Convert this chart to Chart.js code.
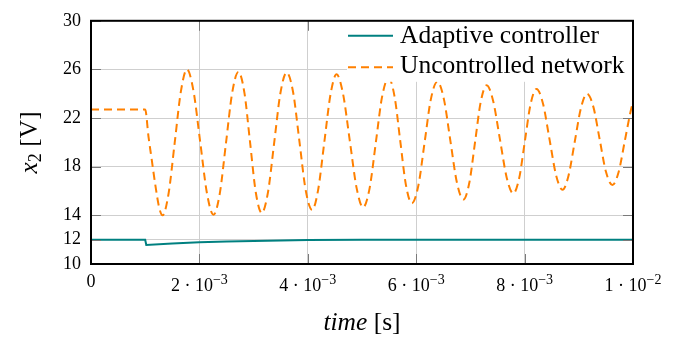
<!DOCTYPE html>
<html>
<head>
<meta charset="utf-8">
<script src="https://cdn.jsdelivr.net/npm/chart.js@4.4.1/dist/chart.umd.min.js"></script>
<style>
  html, body { margin: 0; padding: 0; background: #fff; }
  canvas { display: block; }
</style>
</head>
<body>
<canvas id="chart" width="682" height="339"></canvas>
<script>
// time values are in ms, the axis is in seconds
const uncontrolledTime = [
  0, 1.0, 1.06, 1.12, 1.19, 1.26, 1.32,
  1.43, 1.545, 1.66, 1.77,
  1.89, 2.015, 2.14, 2.26,
  2.375, 2.49, 2.605, 2.72,
  2.83, 2.935, 3.04, 3.15,
  3.265, 3.38, 3.495, 3.61,
  3.73, 3.845, 3.96, 4.08,
  4.19, 4.305, 4.42, 4.53,
  4.65, 4.775, 4.90, 5.02,
  5.14, 5.255, 5.37, 5.49,
  5.60, 5.705, 5.81, 5.92,
  6.04, 6.155, 6.27, 6.39,
  6.51, 6.63, 6.75, 6.87,
  6.98, 7.085, 7.19, 7.30,
  7.42, 7.545, 7.67, 7.79,
  7.90, 8.005, 8.11, 8.22,
  8.34, 8.46, 8.58, 8.70,
  8.81, 8.925, 9.04, 9.15,
  9.27, 9.385, 9.50, 9.62,
  9.735, 9.85, 9.965, 10.0
];
const uncontrolledV = [
  22.7, 22.7, 20.5, 18.6, 16.4, 14.6, 14.0,
  15.76, 20.0, 24.24, 26.0,
  24.25, 20.03, 15.8, 14.05,
  15.77, 19.93, 24.08, 25.8,
  24.1, 20.0, 15.9, 14.2,
  15.89, 19.98, 24.06, 25.75,
  24.1, 20.1, 16.1, 14.45,
  16.08, 20.03, 23.97, 25.6,
  24.0, 20.13, 16.26, 14.66,
  16.22, 19.98, 23.74, 25.3,
  23.79, 20.15, 16.51, 15.0,
  16.46, 20.0, 23.54, 25.0,
  23.58, 20.15, 16.72, 15.3,
  16.68, 20.0, 23.32, 24.7,
  23.4, 20.25, 17.1, 15.8,
  17.06, 20.1, 23.14, 24.4,
  23.18, 20.25, 17.32, 16.1,
  17.26, 20.05, 22.84, 24.0,
  22.9, 20.25, 17.6, 16.5,
  17.57, 20.15, 22.73, 23.3
];
const controlledTime = [0, 1.0, 1.02, 1.5, 2.0, 2.5, 3.0, 3.5, 4.0, 5.0, 10.0];
const controlledV = [12, 12, 11.56, 11.68, 11.78, 11.85, 11.9, 11.94, 11.97, 12.0, 12.0];

const seriesNames = ['Adaptive controller', 'Uncontrolled network'];
const xTicks = [0, 0.002, 0.004, 0.006, 0.008, 0.01];
const xTickBase = ['0', '2 · 10', '4 · 10', '6 · 10', '8 · 10', '1 · 10'];
const xTickExp = ['', '−3', '−3', '−3', '−3', '−2'];
const yTicks = [10, 12, 14, 18, 22, 26, 30];

const SERIF = "'Liberation Serif', 'Times New Roman', serif";
const TEAL = '#008080';
const ORANGE = '#ff8000';

// draws a list of text runs [text, font, dy] side by side, centred on x
function drawRuns(ctx, runs, x, y, align) {
  let total = 0;
  runs.forEach(r => { ctx.font = r[1]; total += ctx.measureText(r[0]).width; });
  let cx = align === 'center' ? x - total / 2 : x;
  ctx.textAlign = 'left';
  runs.forEach(r => {
    ctx.font = r[1];
    ctx.fillText(r[0], cx, y + (r[2] || 0));
    cx += ctx.measureText(r[0]).width;
  });
}

const decorations = {
  id: 'decorations',
  afterDraw(chart) {
    const ctx = chart.ctx;
    const { left, right, top, bottom } = chart.chartArea;
    const xs = chart.scales.x, ys = chart.scales.y;
    ctx.save();

    // inner tick marks on all four sides
    ctx.strokeStyle = '#7a7a7a';
    ctx.lineWidth = 1;
    ctx.beginPath();
    xTicks.forEach(v => {
      const px = Math.round(xs.getPixelForValue(v)) + 0.5;
      ctx.moveTo(px, bottom); ctx.lineTo(px, bottom - 10);
      ctx.moveTo(px, top); ctx.lineTo(px, top + 10);
    });
    yTicks.forEach(v => {
      const py = Math.round(ys.getPixelForValue(v)) + 0.5;
      ctx.moveTo(left, py); ctx.lineTo(left + 10, py);
      ctx.moveTo(right, py); ctx.lineTo(right - 10, py);
    });
    ctx.stroke();

    // legend, top right inside the plot
    ctx.fillStyle = '#fff';
    ctx.fillRect(right - 286, top, 286, 61);
    ctx.lineWidth = 2;
    ctx.strokeStyle = TEAL;
    ctx.beginPath();
    ctx.moveTo(right - 285, top + 15); ctx.lineTo(right - 240, top + 15);
    ctx.stroke();
    ctx.strokeStyle = ORANGE;
    ctx.setLineDash([8, 5]);
    ctx.beginPath();
    ctx.moveTo(right - 285, top + 46.5); ctx.lineTo(right - 240, top + 46.5);
    ctx.stroke();
    ctx.setLineDash([]);
    ctx.fillStyle = '#000';
    ctx.font = '25.5px ' + SERIF;
    ctx.textAlign = 'left';
    ctx.textBaseline = 'alphabetic';
    ctx.fillText(seriesNames[0], right - 233, top + 22);
    ctx.fillText(seriesNames[1], right - 233, top + 52);

    // frame
    ctx.strokeStyle = '#000';
    ctx.lineWidth = 2;
    ctx.strokeRect(left, top, right - left, bottom - top);

    // x tick labels with exponents
    xTicks.forEach((v, i) => {
      const px = xs.getPixelForValue(v);
      if (xTickExp[i]) {
        drawRuns(ctx, [[xTickBase[i], '18px ' + SERIF, 0], [xTickExp[i], '14px ' + SERIF, -7.5]], px, bottom + 27, 'center');
      } else {
        drawRuns(ctx, [[xTickBase[i], '18px ' + SERIF, 0]], px, bottom + 23, 'center');
      }
    });

    // axis titles
    drawRuns(ctx, [['time', 'italic 25.5px ' + SERIF], [' [s]', '25.5px ' + SERIF]], (left + right) / 2, bottom + 66, 'center');
    ctx.translate(37, (top + bottom) / 2);
    ctx.rotate(-Math.PI / 2);
    drawRuns(ctx, [['x', 'italic 25.5px ' + SERIF], ['2', '18px ' + SERIF, 4], [' [V]', '25.5px ' + SERIF]], 0, 0, 'center');

    ctx.restore();
  }
};

new Chart(document.getElementById('chart'), {
  type: 'scatter',
  data: {
    datasets: [
      {
        label: seriesNames[0],
        data: controlledTime.map((t, i) => ({ x: t * 1e-3, y: controlledV[i] })),
        borderColor: TEAL,
        borderWidth: 2,
        showLine: true,
        pointRadius: 0,
        tension: 0
      },
      {
        label: seriesNames[1],
        data: uncontrolledTime.map((t, i) => ({ x: t * 1e-3, y: uncontrolledV[i] })),
        borderColor: ORANGE,
        borderWidth: 2,
        borderDash: [8, 5],
        showLine: true,
        pointRadius: 0,
        cubicInterpolationMode: 'monotone'
      }
    ]
  },
  options: {
    responsive: false,
    animation: false,
    devicePixelRatio: 1,
    layout: { padding: { top: 11, right: 49, left: 0, bottom: 0 } },
    plugins: { legend: { display: false }, tooltip: { enabled: false } },
    scales: {
      x: {
        type: 'linear',
        min: 0,
        max: 0.01,
        afterBuildTicks: s => { s.ticks = xTicks.map(v => ({ value: v })); },
        afterFit: s => { s.height = 75; },
        ticks: { display: false },
        grid: { color: '#cfcfcf', lineWidth: 1, drawTicks: false },
        border: { display: false }
      },
      y: {
        type: 'linear',
        min: 10,
        max: 30,
        afterBuildTicks: s => { s.ticks = yTicks.map(v => ({ value: v })); },
        afterFit: s => { s.width = 91; },
        ticks: { font: { family: SERIF, size: 18 }, color: '#000', padding: 10 },
        grid: { color: '#cfcfcf', lineWidth: 1, drawTicks: false },
        border: { display: false }
      }
    }
  },
  plugins: [decorations]
});
</script>
</body>
</html>
